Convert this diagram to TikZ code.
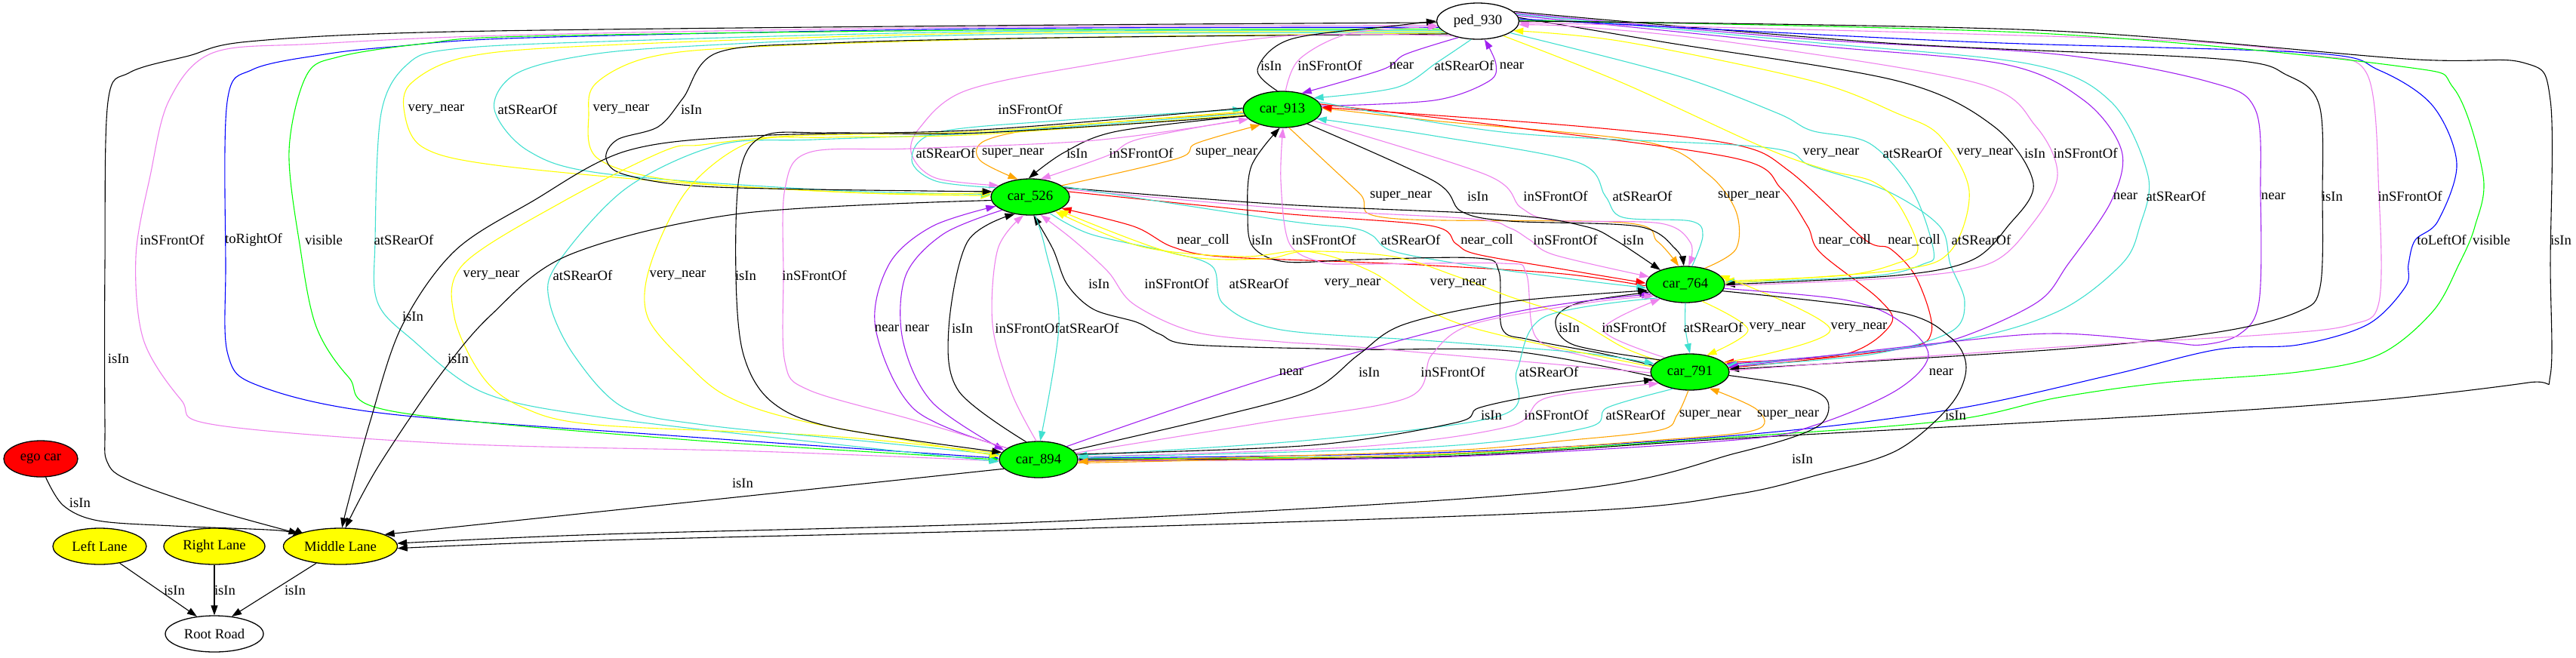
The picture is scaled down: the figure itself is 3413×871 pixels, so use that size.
\documentclass[tikz,border=0pt]{standalone}
\usepackage{fontspec}
\setmainfont{Liberation Serif}
\usetikzlibrary{shapes.geometric,arrows.meta}
\definecolor{cviolet}{HTML}{EE82EE}
\definecolor{cturq}{HTML}{40E0D0}
\definecolor{cpurple}{HTML}{A020F0}
\definecolor{corange}{HTML}{FFA500}
\definecolor{cyellow}{HTML}{FFFF00}
\definecolor{cred}{HTML}{FF0000}
\definecolor{cblue}{HTML}{0000FF}
\definecolor{cgreen}{HTML}{00FF00}
\newcount\labcount
\newcommand\glab[3]{\global\advance\labcount by 1 \node[elab] (lab\the\labcount) at (#1,#2) {#3};}
\newcommand\gedge[2]{\draw[ed,#1] plot[smooth,tension=0.55] coordinates {#2};}
\begin{document}
\begin{tikzpicture}[x=1pt,y=-1pt,font=\fontsize{18.67pt}{22pt}\selectfont,
  gnode/.style={ellipse,draw,line width=1.3pt,minimum height=48pt,inner sep=0pt},
  car/.style={gnode,fill=cgreen,minimum width=104pt},
  lane/.style={gnode,fill=cyellow},
  elab/.style={inner sep=0pt,text=black},
  ed/.style={line width=1.1pt,-{Triangle[length=13pt,width=9pt]}}]
\fill[white] (0,0) rectangle (3413,871);
\useasboundingbox (0,0) rectangle (3413,871);
% nodes
\node[gnode,fill=white,minimum width=109pt] (P) at (1958,28) {ped\_930};
\node[car] (C913) at (1699,145) {car\_913};
\node[car] (C526) at (1365,261) {car\_526};
\node[car] (C764) at (2233,377) {car\_764};
\node[car] (C791) at (2239,493) {car\_791};
\node[car] (C894) at (1376,609) {car\_894};
\node[gnode,fill=cred,minimum width=98pt] (ego) at (54,608) {ego car};
\node[lane,minimum width=124pt] (LL) at (132,724) {Left Lane};
\node[lane,minimum width=134pt] (RL) at (284,724) {Right Lane};
\node[lane,minimum width=151pt] (ML) at (451,724) {Middle Lane};
\node[gnode,fill=white,minimum width=130pt] (RR) at (284,840) {Root Road};
% ped left side
\gedge{black}{(P.182) (1300,34) (600,42) (330,55) (250,74) (172,96) (143,135) (139,350) (139,560) (142,612) (172,637) (280,675) (ML.163)}
\gedge{cviolet}{(C894.182) (1000,598) (600,588) (285,563) (240,530) (190,450) (180,340) (199,233) (224,133) (282,70) (420,58) (700,46) (1300,36) (P.186)}
\gedge{cblue}{(P.189) (1300,38) (700,50) (520,62) (430,72) (335,92) (301,135) (299,350) (302,470) (345,512) (510,548) (900,578) (C894.178)}
\gedge{cgreen}{(P.192) (1300,40) (700,48) (560,58) (450,75) (406,100) (383,200) (398,330) (419,433) (462,500) (520,545) (900,582) (C894.180)}
\gedge{cturq}{(P.195) (1300,42) (800,55) (600,65) (540,85) (505,150) (497,318) (500,400) (546,450) (640,520) (790,552) (1100,588) (C894.183)}
\gedge{cyellow}{(P.197) (1300,44) (800,60) (620,75) (545,110) (536,150) (560,195) (650,218) (900,242) (1150,256) (C526.178)}
\gedge{cturq}{(P.199) (1300,46) (900,62) (760,76) (680,100) (655,145) (700,200) (800,230) (1100,252) (C526.176)}
\gedge{cyellow}{(P.201) (1400,50) (1000,62) (860,76) (790,110) (780,150) (792,210) (900,240) (1150,256) (C526.174)}
\gedge{black}{(P.203) (1400,50) (1100,57) (950,70) (905,130) (872,168) (818,185) (803,210) (830,232) (950,248) (C526.172)}
\gedge{cviolet}{(P.210) (1700,48) (1450,85) (1280,120) (1218,170) (1208,205) (1240,236) (C526.160)}
% ped - car_913
\gedge{black}{(C913.105) (1666,92) (1710,52) (1850,34) (P.180)}
\gedge{cviolet}{(C913.80) (1722,78) (1790,44) (P.188)}
\gedge{cpurple}{(P.220) (1862,72) (1832,92) (C913.40)}
\gedge{cturq}{(P.250) (1905,82) (1850,116) (C913.20)}
\gedge{cpurple}{(C913.5) (1900,133) (1972,108) (1982,85) (P.290)}
% car_913 - car_526
\gedge{cturq}{(C526.165) (1240,240) (1208,212) (1240,176) (1400,160) (C913.180)}
\gedge{corange}{(C913.185) (1400,168) (1306,186) (1298,212) (C526.125)}
\gedge{black}{(C913.190) (1480,174) (1410,202) (C526.95)}
\gedge{cviolet}{(C913.195) (1510,184) (1468,206) (C526.60)}
\gedge{corange}{(C526.20) (1560,210) (1585,190) (C913.215)}
% car_913 - car_764
\gedge{corange}{(C913.290) (1800,255) (1840,289) (2150,295) (2196,320) (C764.110)}
\gedge{black}{(C913.330) (1900,240) (1936,280) (2000,293) (2170,300) (2220,330) (C764.95)}
\gedge{cviolet}{(C913.340) (1970,232) (2015,275) (2060,292) (2200,296) (2240,322) (C764.80)}
\gedge{cturq}{(C764.70) (2256,312) (2240,293) (2150,288) (2127,260) (2090,215) (1900,180) (C913.345)}
\gedge{corange}{(C764.40) (2300,330) (2300,280) (2262,230) (2180,188) (1900,160) (C913.2)}
% car_913 - car_791
\gedge{cred}{(C913.8) (2000,168) (2300,210) (2360,250) (2395,300) (2412,335) (2490,397) (2505,430) (2442,470) (C791.16)}
\gedge{cred}{(C791.6) (2513,463) (2559,440) (2540,370) (2505,330) (2470,317) (2371,227) (2300,192) (2100,168) (C913.3)}
\gedge{cturq}{(C913.12) (2000,176) (2336,195) (2400,220) (2500,253) (2570,300) (2584,350) (2603,400) (2584,440) (2477,470) (C791.8)}
% ped - car_764
\gedge{cyellow}{(P.330) (2150,110) (2336,195) (2420,225) (2480,240) (2515,270) (2541,330) (2510,350) (2442,365) (C764.5)}
\gedge{cturq}{(P.340) (2221,100) (2355,150) (2400,173) (2477,190) (2534,253) (2562,333) (2548,350) (2480,366) (C764.3)}
\gedge{cyellow}{(C764.2) (2513,358) (2584,333) (2609,253) (2570,180) (2513,150) (2400,107) (2150,55) (P.345)}
\gedge{black}{(P.5) (2200,55) (2513,107) (2641,167) (2694,243) (2660,300) (2612,345) (2513,365) (C764.0)}
\gedge{cviolet}{(C764.358) (2513,368) (2634,350) (2690,300) (2726,233) (2697,167) (2619,110) (2300,57) (2100,36) (P.355)}
% ped - car_791
\gedge{cpurple}{(P.8) (2400,60) (2655,85) (2761,133) (2811,200) (2797,267) (2740,350) (2700,400) (2598,447) (2513,463) (C791.12)}
\gedge{cturq}{(P.10) (2400,56) (2690,85) (2797,135) (2846,233) (2835,300) (2811,350) (2726,413) (2584,453) (C791.10)}
\gedge{cpurple}{(P.12) (2400,52) (2726,72) (2925,108) (2988,145) (2995,260) (2993,400) (2967,443) (2917,457) (2868,453) (2726,442) (2584,453) (C791.7)}
\gedge{black}{(P.15) (2500,57) (2939,78) (3031,100) (3073,140) (3077,260) (3074,380) (3045,413) (2939,440) (2726,463) (C791.4)}
\gedge{cviolet}{(C791.2) (2726,460) (3010,443) (3116,430) (3152,400) (3152,260) (3137,100) (3066,73) (2900,55) (2500,42) (P.358)}
% ped - car_894 right
\gedge{cblue}{(P.3) (2600,55) (3059,70) (3152,93) (3223,140) (3255,217) (3230,293) (3200,318) (3191,350) (3187,380) (3137,430) (3045,457) (2939,463) (2797,497) (2584,543) (2300,577) (1900,600) (C894.2)}
\gedge{cgreen}{(P.1) (2700,44) (3173,87) (3251,117) (3290,233) (3279,300) (3258,350) (3223,413) (3152,470) (3045,493) (2868,507) (2726,527) (2584,557) (2300,579) (1900,603) (C894.1)}
\gedge{black}{(P.0) (2700,40) (3187,78) (3343,83) (3379,133) (3379,350) (3379,497) (3350,507) (3152,530) (2868,550) (2300,581) (1900,605) (C894.0)}
% car_526 - car_764
\gedge{cred}{(C764.182) (2072,363) (1900,352) (1789,347) (1617,340) (1553,327) (1502,300) (C526.340)}
\gedge{cred}{(C526.8) (1700,283) (1895,299) (1929,323) (1957,337) (2072,357) (C764.178)}
\gedge{cviolet}{(C526.12) (1700,276) (1950,290) (2000,302) (2027,318) (2060,338) (C764.168)}
\gedge{black}{(C526.15) (1700,271) (2000,285) (2100,300) (2140,318) (C764.150)}
\gedge{cturq}{(C526.18) (1700,292) (1790,302) (1818,312) (1846,333) (1950,352) (2100,372) (C764.185)}
% car_791 - car_913
\gedge{black}{(C791.170) (2120,468) (2026,450) (1990,435) (1986,360) (1957,342) (1800,344) (1703,347) (1660,327) (1653,283) (1658,220) (C913.262)}
\gedge{cviolet}{(C791.176) (2100,472) (2035,447) (2022,362) (1990,349) (1800,350) (1749,347) (1708,322) (1697,240) (C913.272)}
% car_791 - car_526
\gedge{black}{(C791.186) (2000,465) (1800,463) (1583,457) (1537,443) (1506,427) (1449,410) (1414,377) (1395,330) (C526.280)}
\gedge{cviolet}{(C791.181) (1800,460) (1697,453) (1583,440) (1502,403) (1468,360) (1422,318) (C526.300)}
\gedge{cturq}{(C526.320) (1444,310) (1544,333) (1606,353) (1621,403) (1697,437) (1900,452) (2100,468) (C791.167)}
\gedge{cyellow}{(C791.172) (2000,447) (1904,417) (1817,360) (1731,333) (1645,340) (1513,327) (C526.330)}
\gedge{cyellow}{(C791.160) (2150,460) (2080,420) (2000,393) (1932,367) (1846,340) (1731,333) (1674,343) (1559,337) (C526.335)}
% car_526 - car_894
\gedge{cpurple}{(C894.160) (1212,543) (1160,435) (1178,350) (1235,300) (C526.195)}
\gedge{cpurple}{(C526.205) (1250,310) (1200,365) (1196,450) (1235,533) (C894.165)}
\gedge{black}{(C894.125) (1270,518) (1257,435) (1282,320) (C526.228)}
\gedge{cviolet}{(C894.97) (1340,520) (1315,430) (1322,330) (C526.250)}
\gedge{cturq}{(C526.285) (1385,330) (1403,430) (C894.85)}
% car_764 - car_791
\gedge{black}{(C791.158) (2085,457) (2061,425) (2090,402) (C764.192)}
\gedge{cviolet}{(C791.150) (2124,437) (C764.210)}
\gedge{cturq}{(C764.270) (2233,435) (C791.90)}
\gedge{cyellow}{(C764.315) (2316,437) (C791.45)}
\gedge{cyellow}{(C791.15) (2425,437) (C764.15)}
% car_764 - car_894
\gedge{cpurple}{(C894.25) (1700,495) (2000,415) (C764.196)}
\gedge{black}{(C894.15) (1610,553) (1738,517) (1800,470) (1860,430) (2000,400) (C764.189)}
\gedge{cviolet}{(C894.10) (1674,560) (1865,527) (1897,470) (1950,430) (2100,402) (C764.200)}
\gedge{cturq}{(C764.206) (2046,420) (2010,490) (1990,550) (1738,583) (C894.6)}
\gedge{cpurple}{(C764.354) (2442,397) (2513,423) (2555,470) (2513,517) (2406,563) (2300,583) (1900,606) (C894.358)}
% car_791 - car_894
\gedge{black}{(C894.8) (1738,590) (1929,560) (1961,540) (2060,520) (C791.192)}
\gedge{cviolet}{(C894.4) (1800,592) (2000,565) (2050,527) (C791.200)}
\gedge{cturq}{(C791.225) (2130,540) (2101,567) (1900,592) (C894.3)}
\gedge{corange}{(C791.265) (2222,550) (2199,570) (2072,584) (1900,598) (C894.357)}
\gedge{corange}{(C894.355) (1900,602) (2187,584) (2325,570) (2328,543) (C791.320)}
% car_913 - car_894
\gedge{cyellow}{(C913.183) (1300,174) (1050,180) (930,192) (880,200) (746,267) (614,350) (602,420) (640,500) (693,540) (791,563) (1100,578) (C894.171)}
\gedge{cturq}{(C913.186) (1300,176) (1080,185) (953,192) (829,250) (738,350) (728,400) (760,470) (826,540) (932,563) (1150,585) (C894.173)}
\gedge{cyellow}{(C913.188) (1300,178) (1100,182) (995,188) (912,250) (862,350) (858,420) (911,483) (967,527) (1072,560) (C894.175)}
\gedge{black}{(C913.190) (1300,176) (1100,176) (1012,180) (980,230) (975,365) (985,470) (1023,533) (1107,567) (C894.169)}
\gedge{cviolet}{(C894.160) (1212,557) (1072,517) (1040,480) (1038,365) (1040,250) (1072,202) (1205,197) (1450,186) (C913.196)}
% into Middle Lane
\gedge{black}{(C913.178) (1300,172) (1000,180) (830,200) (705,267) (602,333) (532,433) (490,560) (461,667) (ML.85)}
\gedge{black}{(C526.185) (981,283) (756,337) (651,417) (581,500) (500,620) (ML.75)}
\gedge{black}{(C894.195) (ML.15)}
\gedge{black}{(C791.355) (2388,513) (2422,533) (2405,567) (2302,600) (2072,650) (1420,690) (800,708) (ML.3)}
\gedge{black}{(C764.350) (2513,413) (2584,447) (2605,487) (2584,537) (2513,597) (2406,630) (2300,655) (2100,677) (1440,700) (800,716) (ML.358)}
\gedge{black}{(ego.285) (84,670) (130,690) (230,697) (370,703) (ML.168)}
\gedge{black}{(LL.320) (RR.135)}
\gedge{black}{(RL.south) (RR.north)}
\gedge{black}{(ML.215) (RR.45)}
% labels
\glab{157}{475}{isIn}
\glab{228}{318}{inSFrontOf}
\glab{336}{318}{toRightOf}
\glab{429}{318}{visible}
\glab{535}{318}{atSRearOf}
\glab{578}{145}{very\_near}
\glab{699}{145}{atSRearOf}
\glab{823}{145}{very\_near}
\glab{916}{145}{isIn}
\glab{1365}{145}{inSFrontOf}
\glab{1684}{87}{isIn}
\glab{1762}{87}{inSFrontOf}
\glab{1857}{87}{near}
\glab{1940}{87}{atSRearOf}
\glab{2003}{87}{near}
\glab{1253}{203}{atSRearOf}
\glab{1342}{203}{super\_near}
\glab{1427}{203}{isIn}
\glab{1512}{203}{inSFrontOf}
\glab{1625}{203}{super\_near}
\glab{1856}{260}{super\_near}
\glab{1958}{260}{isIn}
\glab{2061}{260}{inSFrontOf}
\glab{2176}{260}{atSRearOf}
\glab{2317}{260}{super\_near}
\glab{2444}{318}{near\_coll}
\glab{2536}{318}{near\_coll}
\glab{2625}{318}{atSRearOf}
\glab{2426}{203}{very\_near}
\glab{2534}{203}{atSRearOf}
\glab{2630}{203}{very\_near}
\glab{2696}{203}{isIn}
\glab{2763}{203}{inSFrontOf}
\glab{2816}{260}{near}
\glab{2883}{260}{atSRearOf}
\glab{3012}{260}{near}
\glab{3090}{260}{isIn}
\glab{3193}{260}{inSFrontOf}
\glab{3235}{318}{toLeftOf}
\glab{3301}{318}{visible}
\glab{3393}{318}{isIn}
\glab{1594}{318}{near\_coll}
\glab{1970}{318}{near\_coll}
\glab{2074}{318}{inSFrontOf}
\glab{2164}{318}{isIn}
\glab{1869}{318}{atSRearOf}
\glab{1672}{318}{isIn}
\glab{1754}{318}{inSFrontOf}
\glab{1456}{376}{isIn}
\glab{1559}{376}{inSFrontOf}
\glab{1668}{376}{atSRearOf}
\glab{1792}{376}{very\_near}
\glab{1932}{376}{very\_near}
\glab{1175}{435}{near}
\glab{1215}{435}{near}
\glab{1275}{435}{isIn}
\glab{1361}{435}{inSFrontOf}
\glab{1443}{435}{atSRearOf}
\glab{2079}{434}{isIn}
\glab{2165}{434}{inSFrontOf}
\glab{2270}{434}{atSRearOf}
\glab{2355}{434}{very\_near}
\glab{2463}{434}{very\_near}
\glab{1711}{493}{near}
\glab{1814}{493}{isIn}
\glab{1925}{493}{inSFrontOf}
\glab{2052}{493}{atSRearOf}
\glab{2572}{493}{near}
\glab{1976}{550}{isIn}
\glab{2062}{550}{inSFrontOf}
\glab{2167}{550}{atSRearOf}
\glab{2266}{550}{super\_near}
\glab{2369}{550}{super\_near}
\glab{547}{419}{isIn}
\glab{607}{475}{isIn}
\glab{984}{640}{isIn}
\glab{2388}{608}{isIn}
\glab{2591}{550}{isIn}
\glab{106}{666}{isIn}
\glab{231}{782}{isIn}
\glab{298}{782}{isIn}
\glab{391}{782}{isIn}
\glab{651}{365}{very\_near}
\glab{772}{365}{atSRearOf}
\glab{898}{365}{very\_near}
\glab{988}{365}{isIn}
\glab{1079}{365}{inSFrontOf}
\end{tikzpicture}
\end{document}
